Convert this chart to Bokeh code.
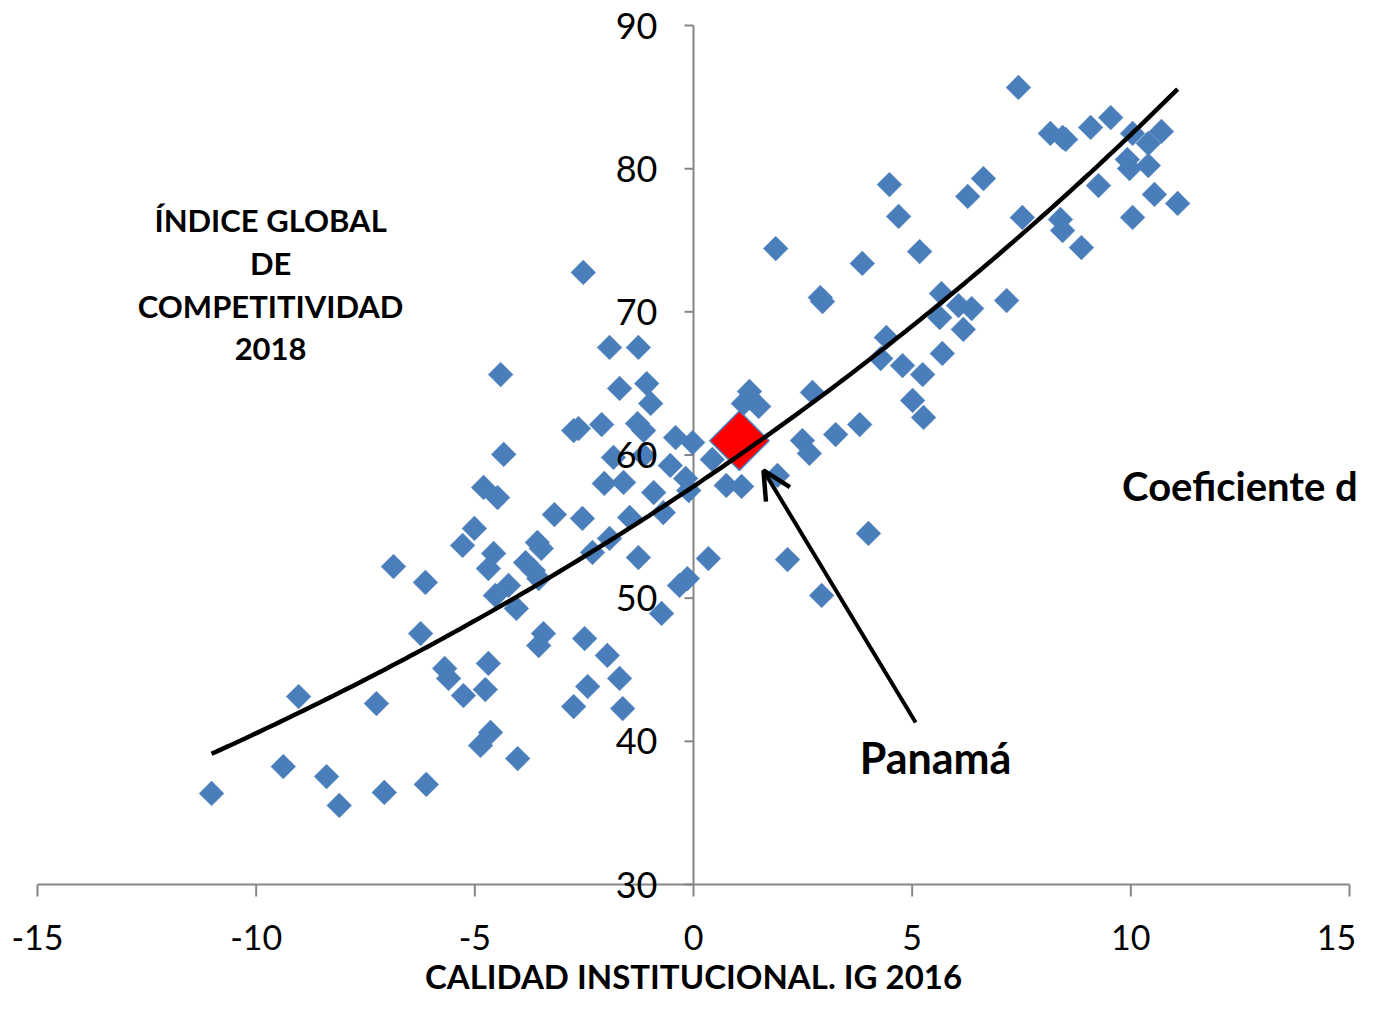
import numpy as np
from math import pi
from bokeh.plotting import figure
from bokeh.core.properties import value
from bokeh.models import (Range1d, Label, LabelSet, ColumnDataSource, Arrow, OpenHead)
from bokeh.embed import file_html
from bokeh.resources import INLINE

# ---------------- data ----------------
x_ticks = [-15, -10, -5, 0, 5, 10, 15]
x_tick_labels = ["-15", "-10", "-5", "0", "5", "10", "15"]
y_ticks = [30, 40, 50, 60, 70, 80, 90]
y_tick_labels = ["30", "40", "50", "60", "70", "80", "90"]

calidad = [-11.02, -9.03, -9.38, -8.39, -8.10, -7.25, -7.07, -6.86, -6.13, -6.11,
           -6.24, -5.69, -5.60, -5.26, -5.28, -5.01, -4.80, -4.48, -4.69, -4.76,
           -4.64, -4.87, -4.02, -4.41, -4.34, -4.57, -4.69, -4.53, -4.23, -4.05,
           -3.84, -3.66, -3.54, -3.48, -3.57, -3.43, -3.54, -3.18, -2.52, -2.74,
           -2.63, -2.54, -2.49, -2.42, -2.74, -2.31, -2.10, -2.04, -1.92, -1.97,
           -1.92, -1.83, -1.69, -1.69, -1.62, -1.60, -1.46, -1.26, -1.28, -1.14,
           -1.07, -0.98, -1.26, -1.14, -0.91, -0.69, -0.73, -0.53, -0.41, -0.02,
           -0.18, -0.11, -0.14, -0.32, 0.34, 0.43, 0.75, 1.10, 1.92, 1.28,
           1.14, 1.49, 1.88, 2.72, 2.49, 2.65, 3.25, 3.80, 4.00, 2.15,
           2.93, 2.90, 2.95, 3.86, 4.48, 4.69, 5.17, 5.67, 5.63, 6.06,
           6.36, 7.16, 6.17, 4.41, 4.28, 4.78, 5.24, 5.69, 5.01, 5.26,
           6.63, 6.27, 7.43, 8.16, 8.44, 8.51, 9.08, 9.54, 10.04, 10.70,
           10.40, 9.92, 9.97, 10.40, 9.26, 10.54, 11.07, 10.04, 7.52, 8.39,
           8.44, 8.87]
indice = [36.36, 43.13, 38.24, 37.54, 35.52, 42.64, 36.43, 52.21, 51.10, 36.99,
          47.53, 45.09, 44.39, 43.20, 53.68, 54.87, 57.73, 57.03, 45.44, 43.62,
          40.62, 39.71, 38.80, 65.62, 60.04, 53.12, 52.07, 50.19, 50.89, 49.28,
          52.49, 51.93, 51.37, 53.47, 53.89, 47.53, 46.69, 55.84, 72.75, 61.71,
          61.85, 55.57, 47.18, 43.83, 42.43, 53.19, 62.13, 58.01, 54.17, 46.00,
          67.51, 59.83, 64.65, 44.39, 42.29, 58.08, 55.64, 67.51, 62.20, 61.71,
          64.99, 63.60, 52.84, 59.97, 57.38, 55.98, 48.93, 59.27, 61.22, 60.87,
          58.36, 57.52, 51.37, 50.89, 52.77, 59.69, 57.87, 57.80, 58.57, 64.44,
          63.60, 63.39, 74.42, 64.37, 61.01, 60.11, 61.43, 62.13, 54.52, 52.70,
          50.19, 71.00, 70.72, 73.38, 78.89, 76.66, 74.21, 71.28, 69.60, 70.44,
          70.23, 70.79, 68.77, 68.21, 66.74, 66.25, 65.62, 67.09, 63.81, 62.62,
          79.31, 78.06, 85.67, 82.46, 82.18, 82.04, 82.88, 83.57, 82.46, 82.60,
          81.76, 80.64, 80.01, 80.22, 78.82, 78.20, 77.57, 76.59, 76.59, 76.45,
          75.68, 74.49]

panama_x = [1.05]
panama_y = [61.0]

BLUE = "#4A7EBB"
AXIS = "#868686"
FONT = "Lato"

# ---------------- layout (pixels) ----------------
W, H = 1357, 995
X_LEFT_PX, X_RIGHT_PX = 37, 1349      # where x = -15 and x = 15 fall
Y_TOP_PX, Y_BOT_PX = 25, 884          # where y = 90 and y = 30 fall
kx = (X_RIGHT_PX - X_LEFT_PX) / (max(x_ticks) - min(x_ticks))
ky = (Y_BOT_PX - Y_TOP_PX) / (max(y_ticks) - min(y_ticks))
x_lo = min(x_ticks) - X_LEFT_PX / kx
x_hi = max(x_ticks) + (W - X_RIGHT_PX) / kx
y_hi = max(y_ticks) + Y_TOP_PX / ky
y_lo = min(y_ticks) - (H - Y_BOT_PX) / ky


def ydata(py):
    return max(y_ticks) - (py - Y_TOP_PX) / ky


p = figure(width=W, height=H, output_backend="svg", toolbar_location=None,
           x_range=Range1d(x_lo, x_hi), y_range=Range1d(y_lo, y_hi),
           x_axis_location=None, y_axis_location=None, min_border=0)
p.min_border_left = p.min_border_right = p.min_border_top = p.min_border_bottom = 0
p.outline_line_color = None
p.xgrid.visible = False
p.ygrid.visible = False
p.background_fill_color = "white"
p.border_fill_color = "white"

# ---------- x axis (at y = 30) ----------
y0 = min(y_ticks)
p.segment(x0=[min(x_ticks)], y0=[y0], x1=[max(x_ticks)], y1=[y0],
          line_color=AXIS, line_width=2)
xt_len = 12 / ky
p.segment(x0=x_ticks, y0=[y0] * len(x_ticks), x1=x_ticks, y1=[y0 - xt_len] * len(x_ticks),
          line_color=AXIS, line_width=2)
# keep the last label inside the canvas edge
x_label_shift = [0] * (len(x_ticks) - 1) + [-13]
xsrc = ColumnDataSource(dict(x=x_ticks, y=[ydata(937)] * len(x_ticks), t=x_tick_labels,
                             dx=x_label_shift))
p.add_layout(LabelSet(x="x", y="y", text="t", source=xsrc, x_offset="dx",
                      text_align="center", text_baseline="middle",
                      text_font=value(FONT), text_font_size=value("34px"),
                      text_color=value("black")))
p.add_layout(Label(x=0, y=ydata(975), text="CALIDAD INSTITUCIONAL. IG 2016",
                   text_align="center", text_baseline="middle", text_font=FONT,
                   text_font_size="33px", text_font_style="bold", text_color="black"))

# ---------- y axis (at x = 0) ----------
p.segment(x0=[0], y0=[min(y_ticks)], x1=[0], y1=[max(y_ticks)],
          line_color=AXIS, line_width=2)
yt_len = 9 / kx
p.segment(x0=[-yt_len] * len(y_ticks), y0=y_ticks, x1=[0] * len(y_ticks), y1=y_ticks,
          line_color=AXIS, line_width=2)
ysrc = ColumnDataSource(dict(x=[0] * len(y_ticks), y=y_ticks, t=y_tick_labels))
p.add_layout(LabelSet(x="x", y="y", text="t", source=ysrc, x_offset=-36,
                      text_align="right", text_baseline="middle",
                      text_font=value(FONT), text_font_size=value("36px"),
                      text_color=value("black")))

# ---------- scatter ----------
p.scatter(calidad, indice, marker="square", angle=pi / 4, size=17.5,
          fill_color=BLUE, line_color=BLUE, line_width=0.5)
p.scatter(panama_x, panama_y, marker="square", angle=pi / 4, size=42,
          fill_color="#FF0000", line_color=BLUE, line_width=1.5)

# ---------- exponential trend line (least squares on log y) ----------
xa = np.array(calidad + panama_x)
ya = np.array(indice + panama_y)
b, ln_a = np.polyfit(xa, np.log(ya), 1)
xs = np.linspace(xa.min(), xa.max(), 200)
ys = np.exp(ln_a) * np.exp(b * xs)
p.line(xs, ys, line_color="black", line_width=4.5)

# ---------- arrow to Panamá ----------
p.add_layout(Arrow(end=OpenHead(size=28, line_width=4.5, line_color="black"),
                   x_start=5.08, y_start=41.32, x_end=1.60, y_end=58.92,
                   line_width=4, line_color="black"))

# ---------- texts ----------
title_lines = ["ÍNDICE GLOBAL", "DE", "COMPETITIVIDAD", "2018"]
title_py = [219, 262, 305, 348]
for t, py in zip(title_lines, title_py):
    p.add_layout(Label(x=-9.67, y=ydata(py), text=t, text_align="center",
                       text_baseline="middle", text_font=FONT,
                       text_font_size="31px", text_font_style="bold",
                       text_color="black"))

p.add_layout(Label(x=3.80, y=ydata(757), text="Panamá", text_align="left",
                   text_baseline="middle", text_font=FONT,
                   text_font_size="43px", text_font_style="bold", text_color="black"))
p.add_layout(Label(x=9.80, y=ydata(485), text="Coeficiente de determinación",
                   text_align="left", text_baseline="middle", text_font=FONT,
                   text_font_size="40px", text_font_style="bold", text_color="black"))

open("out.html", "w").write(file_html(p, INLINE))
